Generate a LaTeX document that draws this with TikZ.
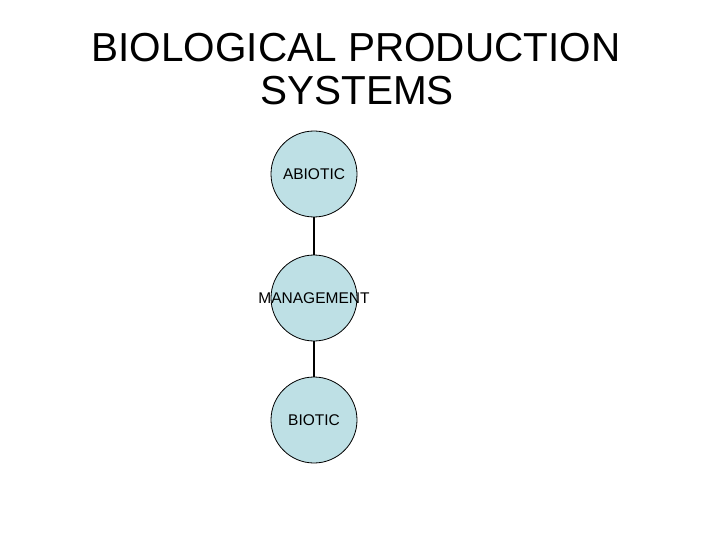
\documentclass[tikz,border=0pt]{standalone}
\usepackage{fontspec}
\setmainfont{Liberation Sans}
\definecolor{circfill}{RGB}{190,224,229}
\begin{document}
\begin{tikzpicture}[x=1pt,y=-1pt,
  bubble/.style={circle,draw=black,line width=0.8pt,fill=circfill,minimum size=86pt,inner sep=0pt},
  blabel/.style={font=\fontsize{15.5}{18}\selectfont,inner sep=0pt},
  title/.style={font=\fontsize{40.5}{44}\selectfont,anchor=base},
  link/.style={draw=black,line width=2pt}]
\useasboundingbox (0,0) rectangle (720,540);
\fill[white] (0,0) rectangle (720,540);
\node[title] (t1) at (356,62) {BIOLOGICAL PRODUCTION};
\node[title] (t2) at (357,105) {SYSTEMS};
\node[bubble] (ab) at (314,174) {};
\node[bubble] (mg) at (314,298) {};
\node[bubble] (bi) at (314,420) {};
\draw[link] (ab) -- (mg);
\draw[link] (mg) -- (bi);
\node[blabel] (abl) at (ab.center) {ABIOTIC};
\node[blabel] (mgl) at (mg.center) {MANAGEMENT};
\node[blabel] (bil) at (bi.center) {BIOTIC};
\end{tikzpicture}
\end{document}
